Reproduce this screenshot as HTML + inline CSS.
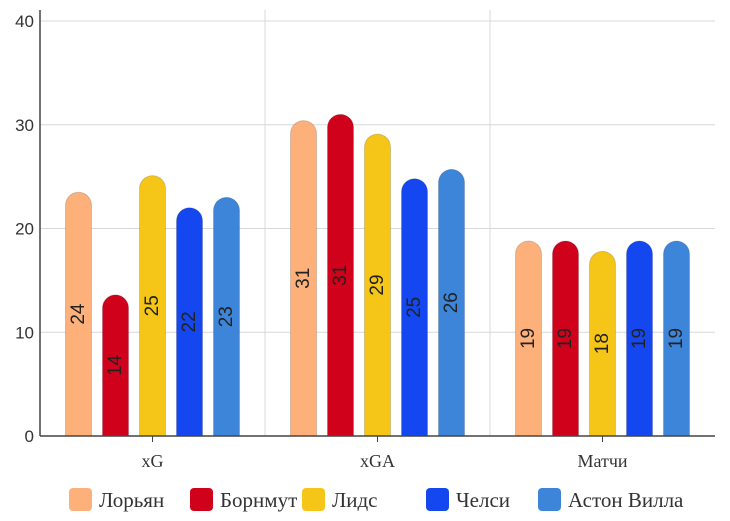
<!DOCTYPE html>
<html><head><meta charset="utf-8"><style>
body{margin:0;background:#fff}
svg{display:block}
</style></head><body>
<svg id="chart" width="730" height="521" xmlns="http://www.w3.org/2000/svg"></svg>
<script>
const categories = ["xG", "xGA", "Матчи"];
const seriesNames = ["Лорьян", "Борнмут", "Лидс", "Челси", "Астон Вилла"];
const seriesColors = ["#fdb07a", "#d0021b", "#f5c518", "#1547f0", "#3d85d8"];
const valLorient = [23.5, 30.4, 18.8];
const valBournemouth = [13.6, 31.0, 18.8];
const valLeeds = [25.1, 29.1, 17.8];
const valChelsea = [22.0, 24.8, 18.8];
const valAston = [23.0, 25.7, 18.8];
const valueLabels = [[24,31,19],[14,31,19],[25,29,18],[22,25,19],[23,26,19]];
const yTicks = [0, 10, 20, 30, 40];
const series = [valLorient, valBournemouth, valLeeds, valChelsea, valAston];

const NS = "http://www.w3.org/2000/svg";
const svg = document.getElementById('chart');
const X0 = 40, X1 = 715, Y0 = 436, YMAX = 40, PPU = 10.375;
const y = v => Y0 - v * PPU;
const groupW = (X1 - X0) / categories.length;
const barW = 26, step = 37;
function mk(tag, attrs, text){
  const e = document.createElementNS(NS, tag);
  for (const k in attrs) e.setAttribute(k, attrs[k]);
  if (text !== undefined) e.textContent = text;
  svg.appendChild(e); return e;
}
yTicks.forEach(t => {
  const l = mk('line', {x1:X0, x2:X1, y1:y(t), y2:y(t), stroke:'#d8d8d8', 'stroke-width':1});
  
  
  const tx = mk('text', {x:X0-6, y:y(t)+6, 'text-anchor':'end', 'font-family':'Liberation Sans, sans-serif', 'font-size':17, fill:'#333'}, t);
  
  
});
for (let i = 1; i < categories.length; i++) {
  const gx = X0 + groupW * i;
  const l = mk('line', {x1:gx, x2:gx, y1:10, y2:Y0, stroke:'#d8d8d8', 'stroke-width':1});
  
  
}
categories.forEach((c, ci) => {
  const cx = X0 + groupW * ci + groupW / 2;
  series.forEach((s, si) => {
    const bx = cx + (si - 2) * step - barW / 2;
    const top = y(s[ci]), r = barW / 2;
    const d = `M${bx},${Y0} L${bx},${top + r} A${r},${r} 0 0 1 ${bx + barW},${top + r} L${bx + barW},${Y0} Z`;
    const p = mk('path', {d, fill:seriesColors[si], stroke:'rgba(0,0,0,0.15)', 'stroke-width':1});
    
    
    const my = (top + Y0) / 2, mx = bx + barW / 2;
    const t = mk('text', {x:mx, y:my, transform:`rotate(-90 ${mx} ${my})`, 'text-anchor':'middle', 'dominant-baseline':'central', 'font-family':'Liberation Sans, sans-serif', 'font-size':19, fill:'#222'}, valueLabels[si][ci]);
    
    
  });
  const tk = mk('line', {x1:cx, x2:cx, y1:Y0, y2:Y0+6, stroke:'#444'});
  
  
  const ct = mk('text', {x:cx, y:467, 'text-anchor':'middle', 'font-family':'Liberation Serif, serif', 'font-size':18, fill:'#333'}, c);
  
  
});
const ax = mk('line', {x1:X0, x2:X1, y1:Y0, y2:Y0, stroke:'#444', 'stroke-width':1.5});


const ay = mk('line', {x1:X0, x2:X0, y1:10, y2:Y0, stroke:'#444', 'stroke-width':1.5});


const legX = [69, 190, 302, 426, 538];
seriesNames.forEach((n, i) => {
  const r = mk('rect', {x:legX[i], y:488, width:23, height:23, rx:4, fill:seriesColors[i]});
  
  
  const t = mk('text', {x:legX[i]+30, y:507, 'font-family':'Liberation Serif, serif', 'font-size':21, fill:'#333'}, n);
  
  
});
</script>
</body></html>
